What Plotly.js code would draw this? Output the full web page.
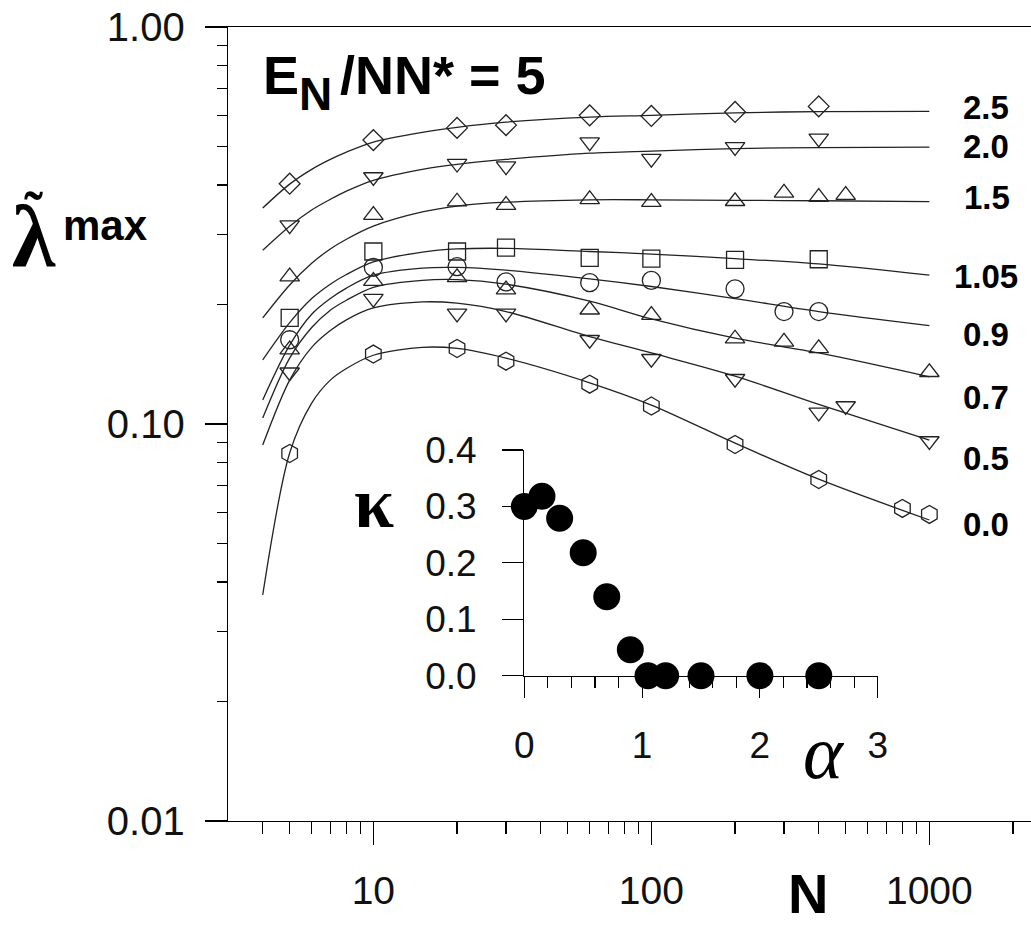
<!DOCTYPE html>
<html><head><meta charset="utf-8">
<script src="https://cdn.plot.ly/plotly-3.0.1.min.js"></script>
<style>html,body{margin:0;padding:0;background:#fff;overflow:hidden}#chart{width:1031px;height:928px}</style>
</head><body><div id="chart"></div>
<script>
// ---------- data ----------
const seriesLabels = ['2.5','2.0','1.5','1.05','0.9','0.7','0.5','0.0'];

const N_25  = [5,10,20,30,60,100,200,400];
const lam_25 = [0.403,0.519,0.557,0.566,0.599,0.597,0.611,0.631];
const N_20  = [5,10,20,30,60,100,200,400];
const lam_20 = [0.317,0.419,0.453,0.446,0.513,0.466,0.499,0.524];
const N_15  = [5,10,20,30,60,100,200,300,400,500];
const lam_15 = [0.235,0.336,0.363,0.356,0.368,0.362,0.364,0.382,0.373,0.377];
const N_105 = [5,10,20,30,60,100,200,400];
const lam_105 = [0.185,0.272,0.272,0.278,0.262,0.261,0.259,0.260];
const N_09  = [5,10,20,30,60,100,200,300,400];
const lam_09 = [0.163,0.248,0.249,0.228,0.227,0.230,0.219,0.192,0.192];
const N_07  = [5,10,20,30,60,100,200,300,400,1000];
const lam_07 = [0.154,0.229,0.234,0.218,0.194,0.188,0.164,0.161,0.155,0.135];
const N_05  = [5,10,20,30,60,100,200,400,500,1000];
const lam_05 = [0.135,0.207,0.190,0.190,0.163,0.146,0.130,0.107,0.111,0.0906];
const N_00  = [5,10,20,30,60,100,200,400,800,1000];
const lam_00 = [0.0843,0.150,0.155,0.144,0.126,0.111,0.0888,0.0725,0.0613,0.0592];

// fitted curves, read at these N
const N_fit = [4,5,6,7,8,10,15,20,30,60,100,200,400,1000];
const fit_25  = [0.350,0.402,0.438,0.464,0.484,0.513,0.543,0.559,0.576,0.593,0.599,0.608,0.612,0.613];
const fit_20  = [0.274,0.315,0.346,0.368,0.386,0.411,0.438,0.451,0.464,0.481,0.487,0.494,0.497,0.498];
const fit_15  = [0.185,0.224,0.254,0.276,0.292,0.315,0.342,0.354,0.362,0.367,0.367,0.366,0.365,0.363];
const fit_105 = [0.145,0.180,0.207,0.225,0.238,0.256,0.271,0.276,0.277,0.272,0.268,0.261,0.253,0.237];
const fit_09  = [0.115,0.158,0.189,0.207,0.220,0.237,0.247,0.248,0.244,0.232,0.222,0.207,0.192,0.177];
const fit_07  = [0.1035,0.1465,0.175,0.1935,0.205,0.221,0.230,0.231,0.225,0.204,0.184,0.1645,0.151,0.1315];
const fit_05  = [0.0885,0.129,0.156,0.172,0.183,0.196,0.203,0.2015,0.192,0.166,0.151,0.132,0.112,0.0911];
const fit_00  = [0.0371,0.0845,0.1129,0.129,0.138,0.149,0.156,0.155,0.1465,0.127,0.1116,0.0895,0.0726,0.0573];

// inset
const alpha = [0,0.15,0.3,0.5,0.7,0.9,1.05,1.2,1.5,2.0,2.5];
const kappa = [0.300,0.318,0.279,0.218,0.140,0.046,0,0,0,0,0];

const xTickVals = [10,100,1000];
const xTickText = ['10','100','1000'];
const yTickVals = [0.01,0.1,1];
const yTickText = ['0.01','0.10','1.00'];

// ---------- drawing ----------
const pts = [
  [N_25,lam_25,'diamond-open',16],
  [N_20,lam_20,'triangle-down-open',17],
  [N_15,lam_15,'triangle-up-open',17],
  [N_105,lam_105,'square-open',17],
  [N_09,lam_09,'circle-open',18],
  [N_07,lam_07,'triangle-up-open',17],
  [N_05,lam_05,'triangle-down-open',17],
  [N_00,lam_00,'hexagon-open',18]
];
const fits = [fit_25,fit_20,fit_15,fit_105,fit_09,fit_07,fit_05,fit_00];

const traces = [];
fits.forEach(f => traces.push({x:N_fit, y:f, mode:'lines', line:{color:'#222', width:1.3, shape:'spline', smoothing:0.9}, hoverinfo:'skip', xaxis:'x', yaxis:'y'}));
pts.forEach(p => traces.push({x:p[0], y:p[1], mode:'markers', marker:{symbol:p[2], size:p[3], color:'#222', line:{width:1.3, color:'#222'}}, xaxis:'x', yaxis:'y'}));
traces.push({x:alpha, y:kappa, mode:'markers', marker:{symbol:'circle', size:27, color:'#000'}, cliponaxis:false, xaxis:'x2', yaxis:'y2'});

const L=228, R=1031, T=27, B=821;
const px = v => (v-L)/(R-L);
const py = v => (B-v)/(B-T);
const SANS = 'Liberation Sans, Arial, sans-serif';
const SERIF = 'Liberation Serif, Times New Roman, serif';
function ann(text, x, y, size, o={}) {
  return Object.assign({text, xref:'paper', yref:'paper', x:px(x), y:py(y), xanchor:'left', yanchor:'middle', showarrow:false,
    font:{family:o.family||SANS, size, color:'#000', weight:o.weight||400, style:o.style||'normal'}}, o.extra||{});
}
const annotations = [
  ann('E', 261, 74.5, 54, {weight:700}),
  ann('N', 297, 93.5, 46, {weight:700}),
  ann('/NN* = 5', 338, 74.5, 54, {weight:700}),
  ann('2.5', 961, 107, 33, {weight:700}),
  ann('2.0', 961, 147, 33, {weight:700}),
  ann('1.5', 962, 197, 33, {weight:700}),
  ann('1.05', 952, 276, 33, {weight:700}),
  ann('0.9', 961, 334, 33, {weight:700}),
  ann('0.7', 961, 397, 33, {weight:700}),
  ann('0.5', 961, 458, 33, {weight:700}),
  ann('0.0', 961, 524, 33, {weight:700}),
  ann('<span style="font-size:56px">˜</span><br><span style="font-size:88px">λ</span>', 34, 234, 28,
      {family:SERIF, weight:700, extra:{xanchor:'center', align:'center'}}),
  ann('max', 61, 226, 42, {weight:700}),
  ann('N', 808, 893, 56, {weight:700, extra:{xanchor:'center'}}),
  ann('κ', 374, 503, 72, {family:SERIF, weight:700, extra:{xanchor:'center'}}),
  ann('α', 824, 752, 76, {family:SERIF, style:'italic', extra:{xanchor:'center'}})
];

const minorX = [4,5,6,7,8,9,20,30,40,50,60,70,80,90,200,300,400,500,600,700,800,900,2000];
const minorY = [0.02,0.03,0.04,0.05,0.06,0.07,0.08,0.09,0.2,0.3,0.4,0.5,0.6,0.7,0.8,0.9];

const layout = {
  width:1031, height:928, margin:{l:L, r:0, t:T, b:928-B, pad:0},
  paper_bgcolor:'#fff', plot_bgcolor:'rgba(0,0,0,0)', showlegend:false,
  font:{family:SANS, color:'#000'},
  xaxis:{type:'log', range:[Math.log10(3), Math.log10(3)+ (R-L)/278], showline:true, linecolor:'#000', linewidth:1.3, mirror:true,
    showgrid:false, zeroline:false, ticks:'outside', ticklen:23, tickwidth:1.2, tickcolor:'#000',
    tickmode:'array', tickvals:xTickVals, ticktext:xTickText, tickfont:{size:39, family:SANS, color:'#111'}, ticklabelstandoff:12,
    minor:{tickmode:'array', tickvals:minorX, ticks:'outside', ticklen:12, tickwidth:1.1, tickcolor:'#000', showgrid:false}},
  yaxis:{type:'log', range:[-2,0], showline:true, linecolor:'#000', linewidth:1.3, mirror:false,
    showgrid:false, zeroline:false, ticks:'outside', ticklen:22, tickwidth:1.2, tickcolor:'#000',
    tickmode:'array', tickvals:yTickVals, ticktext:yTickText, tickfont:{size:40, family:SANS, color:'#111'}, ticklabelstandoff:12,
    minor:{tickmode:'array', tickvals:minorY, ticks:'outside', ticklen:10, tickwidth:1.1, tickcolor:'#000', showgrid:false}},
  xaxis2:{domain:[px(524.3), px(877.7)], anchor:'y2', range:[0,3], showline:true, linecolor:'#000', linewidth:1.2,
    showgrid:false, zeroline:false, ticks:'outside', ticklen:21, tickwidth:1.1, tickcolor:'#000',
    tickmode:'array', tickvals:[0,1,2,3], ticktext:['0','1','2','3'], tickfont:{size:37, family:SANS, color:'#111'}, ticklabelstandoff:16,
    minor:{dtick:0.2, ticks:'outside', ticklen:11, tickwidth:1.1, tickcolor:'#000', showgrid:false}},
  yaxis2:{domain:[py(675.7), py(450)], anchor:'x2', range:[0,0.4], showline:true, linecolor:'#000', linewidth:1.2,
    showgrid:false, zeroline:false, ticks:'outside', ticklen:21, tickwidth:1.1, tickcolor:'#000',
    tickmode:'array', tickvals:[0,0.1,0.2,0.3,0.4], ticktext:['0.0','0.1','0.2','0.3','0.4'], tickfont:{size:37, family:SANS, color:'#111'}, ticklabelstandoff:18},
  annotations
};
Plotly.newPlot('chart', traces, layout, {staticPlot:true, displayModeBar:false});
</script></body></html>
